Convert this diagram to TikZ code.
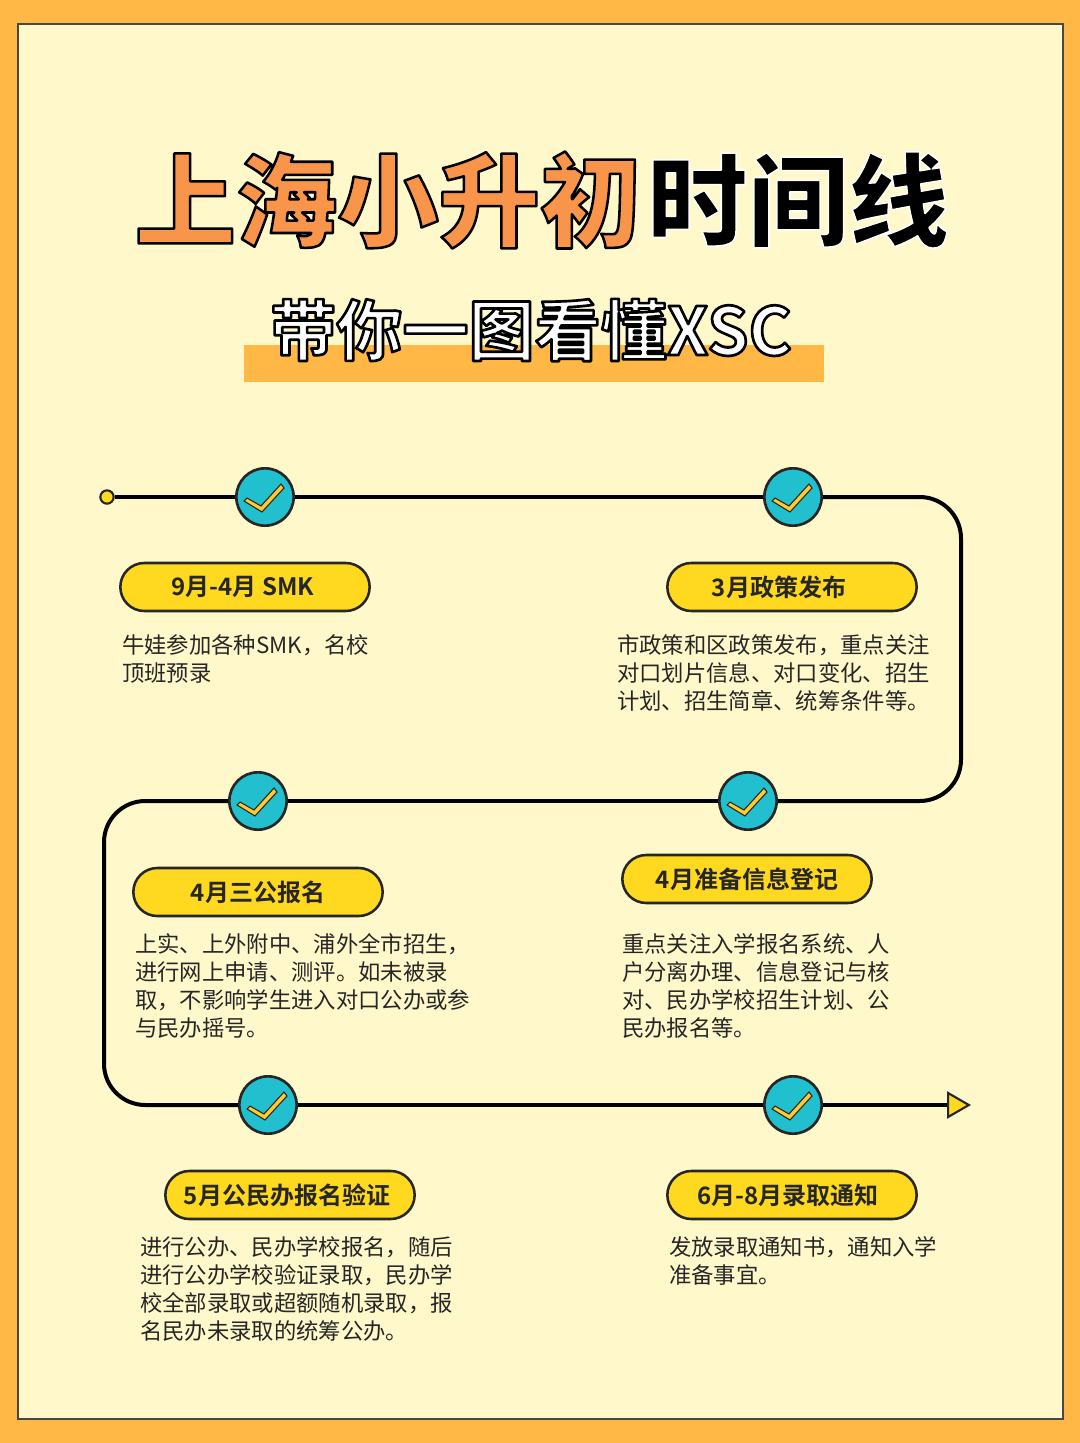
\documentclass[tikz,border=0pt]{standalone}
\usepackage{fontspec}
\setmainfont{Noto Sans CJK SC}[BoldFont={Noto Sans CJK SC Bold}]
\newfontfamily\titlefont{Noto Sans CJK SC Black}
\newfontfamily\subfont{Noto Sans CJK SC Bold}
\usetikzlibrary{shapes.geometric}
\definecolor{frameorange}{HTML}{FFB845}
\definecolor{paper}{HTML}{FEF8CB}
\definecolor{inkdark}{HTML}{262626}
\definecolor{pillyellow}{HTML}{FFD91F}
\definecolor{dotteal}{HTML}{22BFCF}
\definecolor{checkyellow}{HTML}{FFCB30}
\definecolor{titleorange}{HTML}{F9954A}
\newcommand{\strokedtext}[3]{\special{pdf:code q 2 Tr 1 j #1 w #2 RG}#3\special{pdf:code Q}}

\begin{document}
\begin{tikzpicture}[x=.75pt,y=-.75pt,
    checkdot/.style ={circle, draw=inkdark, fill=dotteal, line width=2pt, minimum size=43pt, inner sep=0pt,
      path picture={\draw[fill=checkyellow,draw=inkdark,line width=.8pt,shift={(path picture bounding box.center)}]
        (-21,4) -- (-18,1) -- (-4,9) -- (16,-13) -- (19,-9) -- (-3,15) -- cycle;}},
    pill/.style ={rectangle, rounded corners=18pt, draw=inkdark, fill=pillyellow, line width=1.9pt,
      minimum width=187pt, minimum height=36pt, inner sep=0pt, text=inkdark, font=\fontsize{18}{22}\selectfont\bfseries},
    body/.style ={anchor=north west, align=left, inner sep=0pt, text=inkdark, font=\fontsize{16.75}{21}\selectfont},
    timeline/.style ={line width=3pt, black, rounded corners=31pt}]
   \useasboundingbox (0,0) rectangle (1080,1443);
   \fill[frameorange] (0,0) rectangle (1080,1443);
   \draw[fill=paper,draw=inkdark!85,line width=1.5pt] (18,24) rectangle (1063,1419);
   \fill[frameorange] (244,345) rectangle (824,382);

   \node[anchor=center,inner sep=0pt,text=titleorange,font=\fontsize{76}{80}\selectfont\titlefont] (T1) at (388,200)
     {\strokedtext{1.9}{0 0 0}{上海小升初}};
   \node[anchor=center,inner sep=0pt,text=black,font=\fontsize{75.5}{80}\selectfont\titlefont] (T2) at (798,200)
     {\strokedtext{1.2}{1 1 1}{时间线}};
   \node[anchor=center,inner sep=0pt,text=white,font=\fontsize{49.6}{56}\selectfont\subfont] (T3) at (531,330)
     {\strokedtext{2}{0 0 0}{带你一图看懂XSC}};

   \node[circle,draw=inkdark,fill=pillyellow,line width=1.6pt,minimum size=10pt,inner sep=0pt] (S) at (107,497) {};
   \node[checkdot] (A) at (265,497) {};
   \node[checkdot] (B) at (793,497) {};
   \node[checkdot] (C) at (748,801) {};
   \node[checkdot] (D) at (258,801) {};
   \node[checkdot] (E) at (268,1105) {};
   \node[checkdot] (F) at (793,1105) {};
   \node[isosceles triangle,isosceles triangle apex angle=60,draw=inkdark,fill=pillyellow,line width=1.6pt,
     minimum height=15pt,minimum width=18pt,inner sep=0pt] (G) at (955,1105) {};
   \coordinate (R1) at (961,497);
   \coordinate (R2) at (961,801);
   \coordinate (L1) at (104,801);
   \coordinate (L2) at (104,1105);

   \draw[timeline] (S) -- (A);
   \draw[timeline] (A) -- (B);
   \draw[timeline] (B) -- (R1) -- (R2) -- (C);
   \draw[timeline] (C) -- (D);
   \draw[timeline] (D) -- (L1) -- (L2) -- (E);
   \draw[timeline] (E) -- (F);
   \draw[timeline] (F) -- (G);

   \node[pill] (P1) at (245,587) {9月-4月 SMK\kern3pt};
   \node[pill] (P2) at (792,587) {3月政策发布\kern19.5pt};
   \node[pill] (P3) at (258,892) {4月三公报名};
   \node[pill] (P4) at (747,879) {4月准备信息登记};
   \node[pill] (P5) at (290,1195) {5月公民办报名验证\kern4.5pt};
   \node[pill] (P6) at (792,1195) {6月-8月录取通知\kern6pt};

   \node[body] (N1) at (122,634) {牛娃参加各种SMK，名校\\顶班预录};
   \node[body] (N2) at (617,634) {市政策和区政策发布，重点关注\\对口划片信息、对口变化、招生\\计划、招生简章、统筹条件等。};
   \node[body] (N3) at (135,933) {上实、上外附中、浦外全市招生，\\进行网上申请、测评。如未被录\\取，不影响学生进入对口公办或参\\与民办摇号。};
   \node[body] (N4) at (622,933) {重点关注入学报名系统、人\\户分离办理、信息登记与核\\对、民办学校招生计划、公\\民办报名等。};
   \node[body] (N5) at (140,1236) {进行公办、民办学校报名，随后\\进行公办学校验证录取，民办学\\校全部录取或超额随机录取，报\\名民办未录取的统筹公办。};
   \node[body] (N6) at (669,1236) {发放录取通知书，通知入学\\准备事宜。};
 \end{tikzpicture}
\end{document}
